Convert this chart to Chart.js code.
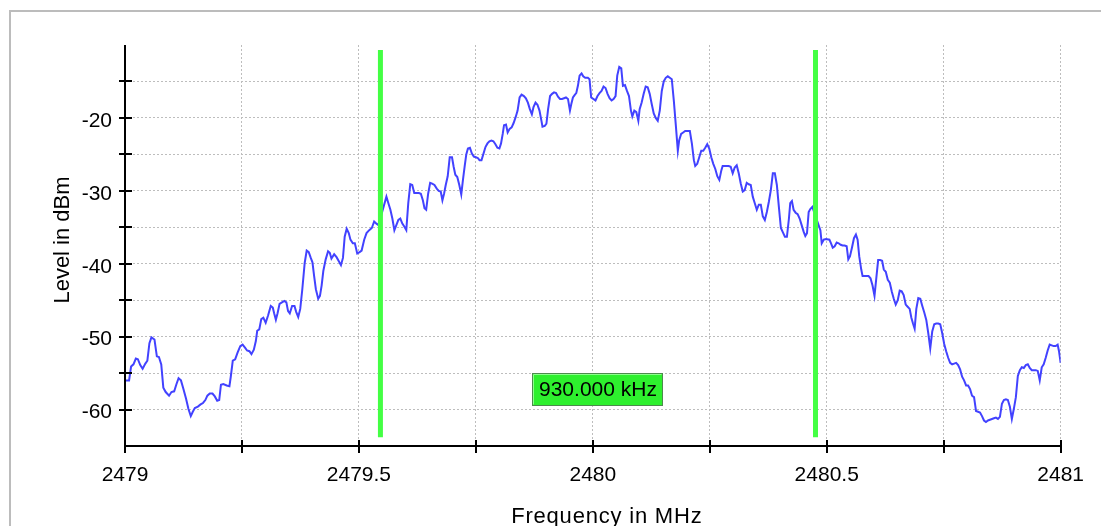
<!DOCTYPE html>
<html>
<head>
<meta charset="utf-8">
<title>Spectrum</title>
<script src="https://cdn.jsdelivr.net/npm/chart.js@4.4.1/dist/chart.umd.min.js"></script>
<style>
  html, body { margin: 0; padding: 0; background: #fff; }
  #spectrum { display: block; }
</style>
</head>
<body>
<canvas id="spectrum" width="1101" height="526"></canvas>
<script>
// measured trace: frequency (MHz) / level (dBm)
const freqMHz = [
  2479.0000, 2479.0087, 2479.0130, 2479.0181, 2479.0232, 2479.0275, 2479.0326, 2479.0377, 2479.0435, 2479.0478,
  2479.0522, 2479.0565, 2479.0630, 2479.0681, 2479.0725, 2479.0775, 2479.0819, 2479.0870, 2479.0942, 2479.0993,
  2479.1051, 2479.1101, 2479.1145, 2479.1196, 2479.1246, 2479.1304, 2479.1355, 2479.1406, 2479.1449, 2479.1493,
  2479.1558, 2479.1616, 2479.1667, 2479.1717, 2479.1761, 2479.1812, 2479.1870, 2479.1920, 2479.1971, 2479.2014,
  2479.2051, 2479.2101, 2479.2174, 2479.2232, 2479.2261, 2479.2304, 2479.2355, 2479.2406, 2479.2464, 2479.2514,
  2479.2565, 2479.2609, 2479.2659, 2479.2703, 2479.2754, 2479.2797, 2479.2826, 2479.2870, 2479.2913, 2479.2957,
  2479.3007, 2479.3058, 2479.3116, 2479.3159, 2479.3188, 2479.3225, 2479.3261, 2479.3304, 2479.3355, 2479.3406,
  2479.3449, 2479.3486, 2479.3522, 2479.3572, 2479.3623, 2479.3659, 2479.3703, 2479.3746, 2479.3790, 2479.3841,
  2479.3884, 2479.3928, 2479.3971, 2479.4007, 2479.4043, 2479.4080, 2479.4130, 2479.4167, 2479.4203, 2479.4239,
  2479.4290, 2479.4341, 2479.4377, 2479.4413, 2479.4471, 2479.4522, 2479.4565, 2479.4616, 2479.4659, 2479.4696,
  2479.4739, 2479.4783, 2479.4819, 2479.4870, 2479.4913, 2479.4964, 2479.5014, 2479.5058,
  2479.5113, 2479.5163, 2479.5220, 2479.5276, 2479.5326, 2479.5375, 2479.5418, 2479.5588, 2479.5630, 2479.5673,
  2479.5715, 2479.5758, 2479.5800, 2479.5843, 2479.5885, 2479.5928, 2479.5970, 2479.6013, 2479.6055, 2479.6098,
  2479.6140, 2479.6183, 2479.6232, 2479.6282, 2479.6324, 2479.6367, 2479.6402, 2479.6438, 2479.6480, 2479.6523,
  2479.6565, 2479.6615, 2479.6664, 2479.6707, 2479.6749, 2479.6785, 2479.6820, 2479.6856, 2479.6898, 2479.6941,
  2479.6990, 2479.7025, 2479.7061, 2479.7103, 2479.7146, 2479.7188, 2479.7224, 2479.7259, 2479.7295, 2479.7330,
  2479.7373, 2479.7415, 2479.7457, 2479.7500, 2479.7542, 2479.7578, 2479.7620, 2479.7663, 2479.7705, 2479.7748,
  2479.7790, 2479.7833, 2479.7875, 2479.7918, 2479.7960, 2479.8003, 2479.8038, 2479.8074, 2479.8102, 2479.8144,
  2479.8180, 2479.8222, 2479.8265, 2479.8307, 2479.8350, 2479.8392, 2479.8435, 2479.8477, 2479.8527, 2479.8569,
  2479.8612, 2479.8654, 2479.8697, 2479.8732, 2479.8775, 2479.8817, 2479.8860, 2479.8902, 2479.8924, 2479.8973,
  2479.9008, 2479.9044, 2479.9086, 2479.9129, 2479.9171, 2479.9214, 2479.9256, 2479.9299, 2479.9341, 2479.9384,
  2479.9426, 2479.9469, 2479.9511, 2479.9540, 2479.9575, 2479.9618, 2479.9646, 2479.9681, 2479.9717, 2479.9759,
  2479.9795, 2479.9837, 2479.9894, 2479.9929, 2479.9965,
  2480.0057, 2480.0100, 2480.0143, 2480.0186, 2480.0229, 2480.0272, 2480.0315, 2480.0358, 2480.0401, 2480.0443,
  2480.0486, 2480.0522, 2480.0565, 2480.0608, 2480.0644, 2480.0687, 2480.0730, 2480.0773, 2480.0815, 2480.0844,
  2480.0887, 2480.0930, 2480.0973, 2480.1001, 2480.1044, 2480.1087, 2480.1130, 2480.1173, 2480.1216, 2480.1259,
  2480.1302, 2480.1345, 2480.1388, 2480.1431, 2480.1474, 2480.1516, 2480.1559, 2480.1602, 2480.1645, 2480.1688,
  2480.1731, 2480.1774, 2480.1817, 2480.1845, 2480.1888, 2480.1931, 2480.1974, 2480.2024, 2480.2074, 2480.2117,
  2480.2160, 2480.2189, 2480.2232, 2480.2275, 2480.2318, 2480.2361, 2480.2403, 2480.2446, 2480.2489, 2480.2532,
  2480.2575, 2480.2618, 2480.2661, 2480.2704, 2480.2747, 2480.2775, 2480.2818, 2480.2861, 2480.2904, 2480.2947,
  2480.2990, 2480.3033, 2480.3076, 2480.3119, 2480.3162, 2480.3205, 2480.3247, 2480.3290, 2480.3333, 2480.3376,
  2480.3419, 2480.3462, 2480.3505, 2480.3548, 2480.3591, 2480.3634, 2480.3677, 2480.3720, 2480.3763, 2480.3805,
  2480.3848, 2480.3891, 2480.3934, 2480.3977, 2480.4020, 2480.4063, 2480.4106, 2480.4149, 2480.4192, 2480.4220,
  2480.4256, 2480.4292, 2480.4335, 2480.4378, 2480.4421, 2480.4464, 2480.4506, 2480.4542, 2480.4578, 2480.4614,
  2480.4649, 2480.4692, 2480.4864, 2480.4893, 2480.4936, 2480.4986,
  2480.5057, 2480.5092, 2480.5128, 2480.5170, 2480.5213, 2480.5255, 2480.5298, 2480.5340, 2480.5383, 2480.5426,
  2480.5461, 2480.5496, 2480.5539, 2480.5582, 2480.5624, 2480.5660, 2480.5695, 2480.5738, 2480.5766, 2480.5809,
  2480.5851, 2480.5894, 2480.5936, 2480.5979, 2480.6021, 2480.6064, 2480.6099, 2480.6142, 2480.6184, 2480.6220,
  2480.6262, 2480.6305, 2480.6348, 2480.6390, 2480.6433, 2480.6475, 2480.6518, 2480.6560, 2480.6603, 2480.6645,
  2480.6688, 2480.6730, 2480.6773, 2480.6809, 2480.6844, 2480.6879, 2480.6915, 2480.6957, 2480.7000, 2480.7043,
  2480.7085, 2480.7128, 2480.7170, 2480.7213, 2480.7255, 2480.7298, 2480.7340, 2480.7383, 2480.7426, 2480.7468,
  2480.7511, 2480.7553, 2480.7596, 2480.7638, 2480.7681, 2480.7723, 2480.7766, 2480.7809, 2480.7851, 2480.7894,
  2480.7936, 2480.7979, 2480.8021, 2480.8064, 2480.8106, 2480.8149, 2480.8191, 2480.8234, 2480.8277, 2480.8319,
  2480.8362, 2480.8404, 2480.8447, 2480.8489, 2480.8532, 2480.8574, 2480.8617, 2480.8660, 2480.8702, 2480.8745,
  2480.8787, 2480.8830, 2480.8872, 2480.8915, 2480.8957, 2480.9000, 2480.9043, 2480.9085, 2480.9128, 2480.9170,
  2480.9213, 2480.9255, 2480.9298, 2480.9340, 2480.9383, 2480.9426, 2480.9468, 2480.9511, 2480.9553, 2480.9596,
  2480.9638, 2480.9681, 2480.9723, 2480.9766, 2480.9809, 2480.9851, 2480.9894, 2480.9936, 2480.9965, 2481.0000
];
const levelDbm = [
  -56.0, -56.0, -54.1, -53.8, -53.0, -53.1, -53.9, -54.4, -53.7, -53.3,
  -50.9, -50.1, -50.4, -52.7, -52.8, -53.8, -57.0, -57.6, -58.1, -57.6,
  -57.5, -56.5, -55.7, -56.0, -57.1, -58.5, -59.9, -60.9, -60.3, -59.8,
  -59.6, -59.3, -59.1, -58.7, -58.1, -57.8, -57.8, -58.2, -58.8, -58.7,
  -56.6, -56.5, -56.7, -56.8, -55.5, -53.3, -53.1, -52.2, -51.3, -51.1,
  -51.5, -51.9, -52.0, -52.4, -51.8, -50.6, -49.2, -49.0, -47.6, -47.4,
  -48.1, -47.1, -45.8, -46.0, -46.8, -47.7, -46.8, -45.5, -45.3, -45.1,
  -45.3, -46.5, -46.8, -45.8, -45.8, -46.6, -47.3, -46.2, -43.5, -39.9,
  -38.2, -38.4, -39.2, -39.8, -41.7, -43.5, -44.8, -44.4, -43.0, -41.0,
  -39.4, -38.3, -38.5, -39.3, -38.7, -39.1, -39.6, -40.2, -39.2, -36.3,
  -35.2, -35.8, -36.7, -37.2, -37.2, -38.6, -38.4, -38.2,
  -36.7, -35.8, -35.4, -35.1, -34.2, -34.5, -34.7, -30.8, -31.7, -32.6,
  -33.8, -35.4, -34.7, -34.0, -33.8, -34.5, -34.9, -35.4, -31.7, -29.1,
  -29.2, -30.3, -30.3, -30.3, -30.4, -31.3, -32.4, -32.6, -30.4, -28.9,
  -29.0, -29.2, -29.7, -30.0, -30.1, -31.3, -30.4, -29.2, -28.0, -25.4,
  -25.4, -26.7, -27.8, -28.1, -29.2, -30.5, -28.5, -26.7, -25.0, -24.2,
  -24.1, -24.9, -25.3, -25.4, -25.5, -25.8, -25.8, -24.9, -24.0, -23.5,
  -23.2, -23.1, -23.2, -23.6, -24.1, -24.2, -23.5, -22.2, -21.0, -20.9,
  -22.0, -21.5, -21.3, -20.7, -19.9, -19.0, -17.2, -16.8, -17.0, -17.3,
  -17.9, -18.8, -19.5, -18.5, -17.9, -18.2, -19.0, -20.4, -21.2, -21.1,
  -20.8, -18.8, -17.0, -16.7, -16.5, -16.6, -17.1, -17.4, -17.4, -17.3,
  -17.2, -17.4, -19.0, -18.1, -17.2, -16.8, -16.6, -15.6, -14.2, -13.9,
  -14.3, -14.5, -14.5, -14.7, -17.2,
  -17.6, -17.0, -16.6, -16.3, -15.7, -15.9, -16.7, -17.3, -17.6, -17.4,
  -17.0, -14.2, -13.0, -13.2, -15.6, -15.5, -16.3, -17.0, -19.0, -19.8,
  -19.0, -19.2, -20.4, -18.8, -17.9, -16.7, -15.7, -15.8, -16.7, -18.1,
  -19.4, -20.0, -20.4, -19.0, -16.3, -15.0, -14.5, -14.3, -14.5, -14.7,
  -17.6, -21.0, -24.5, -23.1, -22.2, -22.0, -21.8, -21.8, -21.8, -23.5,
  -25.8, -26.6, -26.3, -25.4, -24.5, -24.5, -24.1, -23.6, -24.2, -25.4,
  -26.3, -27.0, -28.0, -28.5, -27.2, -26.6, -26.6, -26.6, -26.6, -26.7,
  -27.6, -26.8, -26.5, -27.6, -29.0, -30.1, -29.9, -28.9, -29.1, -29.2,
  -30.8, -31.7, -32.6, -31.9, -31.9, -33.5, -34.0, -32.9, -31.5, -29.9,
  -27.6, -27.6, -29.2, -32.2, -35.1, -35.7, -36.3, -36.3, -33.8, -31.7,
  -31.4, -32.6, -33.0, -33.2, -33.8, -34.7, -35.6, -36.2, -35.8, -32.9,
  -32.5, -32.2, -35.4, -37.2, -36.7, -36.6,
  -36.7, -37.2, -37.8, -37.6, -37.1, -37.2, -37.4, -37.5, -37.5, -37.6,
  -39.4, -39.0, -37.8, -36.5, -36.0, -36.7, -39.0, -40.8, -41.7, -41.7,
  -41.7, -41.7, -42.0, -43.0, -44.4, -41.7, -39.5, -39.5, -39.6, -40.8,
  -41.1, -42.2, -42.6, -43.8, -44.8, -45.6, -45.0, -43.7, -43.8, -44.3,
  -45.6, -45.9, -46.2, -47.4, -48.2, -48.9, -46.2, -44.7, -44.8, -45.8,
  -46.7, -47.7, -49.5, -51.6, -49.3, -48.3, -48.2, -48.2, -48.3, -49.5,
  -51.0, -52.0, -52.9, -53.6, -53.8, -53.7, -53.6, -53.9, -54.5, -55.5,
  -56.0, -56.7, -56.7, -57.2, -58.1, -58.3, -60.2, -60.3, -60.4, -60.9,
  -61.5, -61.7, -61.5, -61.4, -61.3, -61.2, -61.1, -61.3, -61.0, -59.2,
  -58.7, -58.6, -58.7, -59.6, -61.3, -59.9, -58.3, -55.4, -54.6, -54.2,
  -54.3, -53.9, -53.8, -54.3, -54.6, -54.6, -54.6, -54.7, -56.0, -54.2,
  -53.8, -52.9, -51.9, -51.1, -51.2, -51.3, -51.3, -51.1, -52.0, -53.6
];

// delta markers
const markerStartMHz = 2479.546;
const markerSpanKHz = 930;
const markerFreqs = [markerStartMHz, markerStartMHz + markerSpanKHz / 1000];
const markerLevels = [-10.7, -63.8];
const deltaLabelLevel = -57.2;

// labelled ticks
const xTickLabels = [2479, 2479.5, 2480, 2480.5, 2481];
const yTickLabels = [-20, -30, -40, -50, -60];

const FONT = "'Liberation Sans', Arial, Helvetica, sans-serif";

const chromePlugin = {
  id: 'chrome',
  beforeDraw(chart) {
    const ctx = chart.ctx;
    ctx.save();
    ctx.fillStyle = '#ffffff';
    ctx.fillRect(0, 0, chart.width, chart.height);
    ctx.strokeStyle = '#bcbcbc';
    ctx.lineWidth = 2;
    ctx.strokeRect(10, 11, chart.width + 40, chart.height + 40);
    ctx.restore();
  },
  afterDraw(chart) {
    const { ctx, chartArea: a, scales: { x, y } } = chart;
    ctx.save();

    // axis lines and crossing tick marks
    ctx.strokeStyle = '#000';
    ctx.lineWidth = 2;
    ctx.beginPath();
    ctx.moveTo(a.left, a.top);
    ctx.lineTo(a.left, a.bottom);
    ctx.lineTo(a.right, a.bottom);
    y.ticks.forEach(t => {
      if (t.value <= y.min || t.value >= y.max) return;
      const py = Math.round(y.getPixelForValue(t.value));
      ctx.moveTo(a.left - 6, py);
      ctx.lineTo(a.left + 7, py);
    });
    x.ticks.forEach(t => {
      const px = Math.round(x.getPixelForValue(t.value));
      ctx.moveTo(px, a.bottom - 6);
      ctx.lineTo(px, a.bottom + 7);
    });
    ctx.stroke();

    // axis titles
    ctx.fillStyle = '#000';
    ctx.font = '22px ' + FONT;
    ctx.textAlign = 'center';
    ctx.textBaseline = 'alphabetic';
    ctx.letterSpacing = '0.8px';
    ctx.fillText('Frequency in MHz', (a.left + a.right) / 2 + 14, 523);
    ctx.letterSpacing = '0px';
    ctx.save();
    ctx.translate(69, 240);
    ctx.rotate(-Math.PI / 2);
    ctx.font = '22px ' + FONT;
    ctx.fillText('Level in dBm', 0, 0);
    ctx.restore();

    // delta label between the two markers
    const cx = (x.getPixelForValue(markerFreqs[0]) + x.getPixelForValue(markerFreqs[1])) / 2;
    const cy = y.getPixelForValue(deltaLabelLevel);
    const w = 131, h = 33;
    const bx = Math.round(cx - w / 2), by = Math.round(cy - h / 2);
    ctx.fillStyle = '#2ef02e';
    ctx.fillRect(bx, by, w, h);
    ctx.lineWidth = 1;
    ctx.strokeStyle = '#8cff8c';
    ctx.beginPath();
    ctx.moveTo(bx + 1.5, by + h - 1.5);
    ctx.lineTo(bx + 1.5, by + 1.5);
    ctx.lineTo(bx + w - 1.5, by + 1.5);
    ctx.stroke();
    ctx.strokeStyle = '#4d8a4d';
    ctx.strokeRect(bx + 0.5, by + 0.5, w - 1, h - 1);
    ctx.fillStyle = '#000';
    ctx.font = '21px ' + FONT;
    ctx.textAlign = 'center';
    ctx.textBaseline = 'middle';
    const span = (markerFreqs[1] - markerFreqs[0]) * 1000;
    ctx.fillText(span.toFixed(3) + ' kHz', cx, cy + 1);

    ctx.restore();
  }
};

const gridColor = '#bdbdbd';

new Chart(document.getElementById('spectrum').getContext('2d'), {
  type: 'line',
  data: {
    datasets: [
      {
        label: 'marker 1',
        data: markerLevels.map(v => ({ x: markerFreqs[0], y: v })),
        borderColor: '#44ff44',
        borderWidth: 5,
        borderCapStyle: 'butt',
        pointRadius: 0,
        order: 0
      },
      {
        label: 'marker 2',
        data: markerLevels.map(v => ({ x: markerFreqs[1], y: v })),
        borderColor: '#44ff44',
        borderWidth: 5,
        borderCapStyle: 'butt',
        pointRadius: 0,
        order: 0
      },
      {
        label: 'Level',
        data: freqMHz.map((f, i) => ({ x: f, y: levelDbm[i] })),
        borderColor: '#4242ff',
        borderWidth: 2,
        pointRadius: 0,
        tension: 0,
        order: 1
      }
    ]
  },
  options: {
    responsive: false,
    animation: false,
    devicePixelRatio: 1,
    layout: { padding: { top: 45, right: 40, left: 0, bottom: 0 } },
    plugins: {
      legend: { display: false },
      tooltip: { enabled: false }
    },
    scales: {
      x: {
        type: 'linear',
        min: 2479,
        max: 2481,
        afterFit: s => { s.height = 80; },
        border: { display: false, dash: [2, 2] },
        grid: { color: gridColor, lineWidth: 1, drawTicks: false },
        ticks: {
          stepSize: 0.25,
          autoSkip: false,
          maxRotation: 0,
          padding: 17,
          color: '#000',
          font: { family: FONT, size: 21 },
          callback: v => xTickLabels.includes(v) ? String(v) : ''
        }
      },
      y: {
        min: -65,
        max: -10,
        afterFit: s => { s.width = 125; },
        border: { display: false, dash: [2, 2] },
        grid: {
          color: c => (c.tick && (c.tick.value === -65 || c.tick.value === -10)) ? 'rgba(0,0,0,0)' : gridColor,
          lineWidth: 1,
          drawTicks: false
        },
        ticks: {
          stepSize: 5,
          autoSkip: false,
          padding: 13,
          labelOffset: 3,
          color: '#000',
          font: { family: FONT, size: 21 },
          callback: v => yTickLabels.includes(v) ? String(v) : ''
        }
      }
    }
  },
  plugins: [chromePlugin]
});
</script>
</body>
</html>
